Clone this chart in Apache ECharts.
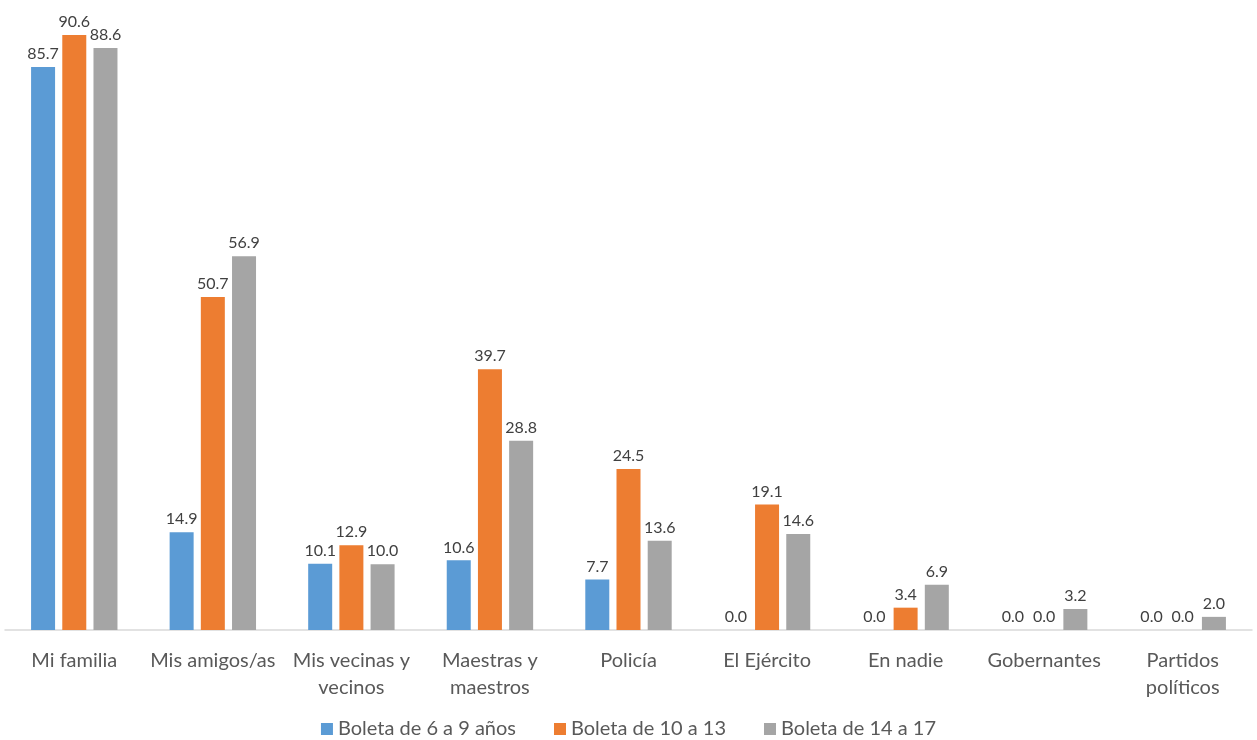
<!DOCTYPE html>
<html>
<head>
<meta charset="utf-8">
<script src="https://cdn.jsdelivr.net/npm/echarts@6/dist/echarts.min.js"></script>
<style>
  html, body { margin: 0; padding: 0; background: #fff; }
  #chart { width: 1257px; height: 740px; }
</style>
</head>
<body>
<div id="chart"></div>
<script>
// categorías y valores (%)
var categories = ["Mi familia", "Mis amigos/as", "Mis vecinas y\nvecinos", "Maestras y\nmaestros", "Policía", "El Ejército", "En nadie", "Gobernantes", "Partidos\npolíticos"];
var seriesNames = ["Boleta de 6 a 9 años", "Boleta de 10 a 13", "Boleta de 14 a 17"];
var boleta6a9 = [85.7, 14.9, 10.1, 10.6, 7.7, 0.0, 0.0, 0.0, 0.0];
var boleta10a13 = [90.6, 50.7, 12.9, 39.7, 24.5, 19.1, 3.4, 0.0, 0.0];
var boleta14a17 = [88.6, 56.9, 10.0, 28.8, 13.6, 14.6, 6.9, 3.2, 2.0];

var colors = ["#5B9BD5", "#ED7D31", "#A5A5A5"];
var font = "Lato, 'Open Sans', sans-serif";

(function () {
  const myChart = echarts.init(document.getElementById("chart"));
  const data = [boleta6a9, boleta10a13, boleta14a17];
  const option = {
    animation: false,
    color: colors,
    textStyle: { fontFamily: font },
    legend: {
      top: 714,
      left: "center",
      itemWidth: 12,
      itemHeight: 12,
      itemGap: 38,
      icon: "rect",
      textStyle: { color: "#595959", fontSize: 20, fontFamily: font },
      data: seriesNames
    },
    grid: {
      left: 5,
      right: 5,
      top: 6,
      bottom: 110
    },
    xAxis: {
      type: "category",
      data: categories,
      axisTick: { show: false },
      axisLine: { lineStyle: { color: "#D9D9D9", width: 1.5 } },
      axisLabel: {
        color: "#595959",
        fontSize: 20,
        fontFamily: font,
        margin: 17,
        lineHeight: 27,
        interval: 0
      }
    },
    yAxis: {
      type: "value",
      min: 0,
      max: 95,
      show: false,
      splitLine: { show: false }
    },
    series: data.map((d, i) => ({
      name: seriesNames[i],
      type: "bar",
      data: d,
      barWidth: 24,
      barGap: "30%",
      label: {
        show: true,
        position: "top",
        distance: 5,
        color: "#404040",
        fontSize: 16,
        fontFamily: font,
        formatter: (p) => p.value.toFixed(1)
      }
    }))
  };
  myChart.setOption(option);

  window.addEventListener("resize", () => {
    myChart.resize()
  })
})();
</script>
</body>
</html>
